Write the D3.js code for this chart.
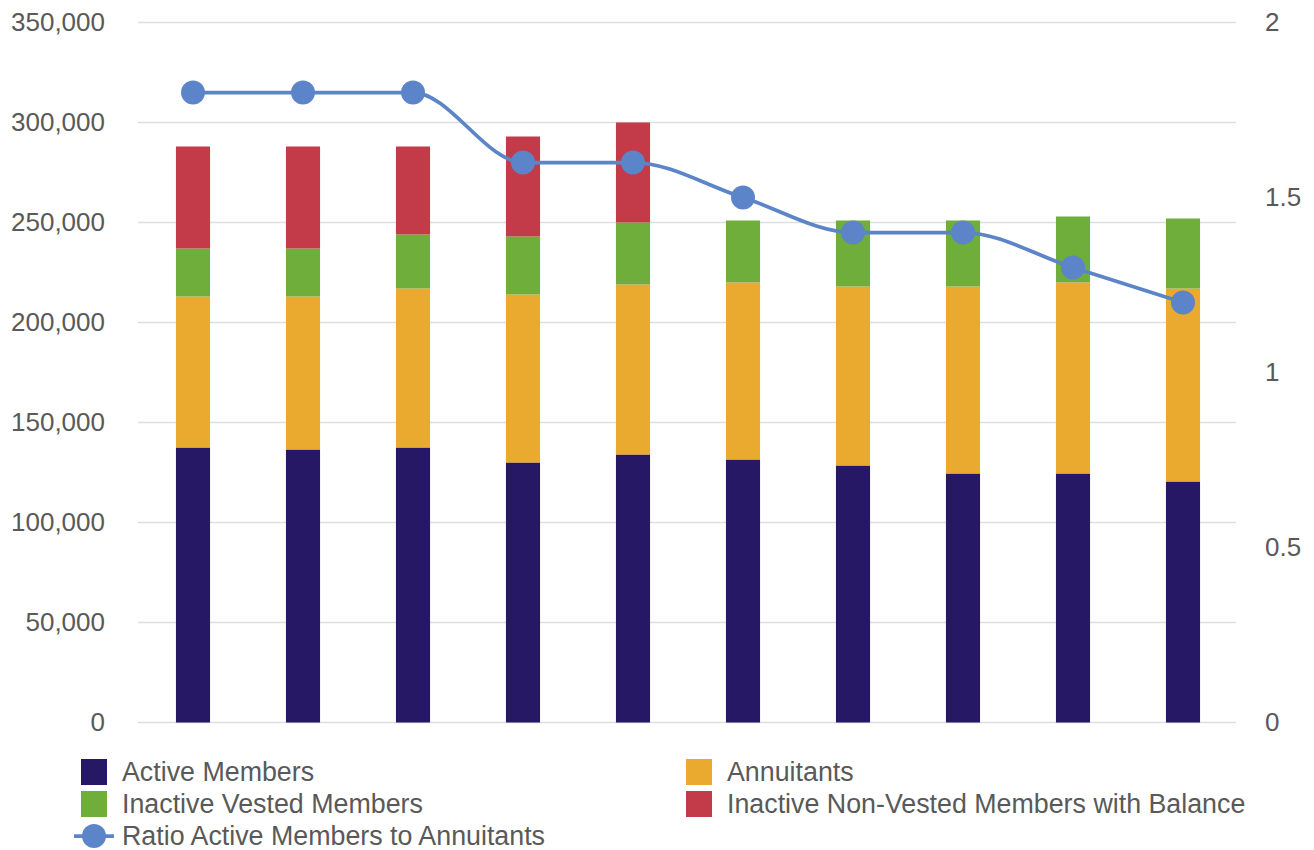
<!DOCTYPE html>
<html>
<head>
<meta charset="utf-8">
<script src="https://cdn.jsdelivr.net/npm/d3@7"></script>
<style>
  html, body { margin: 0; padding: 0; background: #fff; }
  svg { display: block; font-family: "Liberation Sans", Arial, sans-serif; }
</style>
</head>
<body>
<svg id="chart" width="1314" height="850"></svg>
<script>
// Membership counts per period (stacked bars) and the active-to-annuitant ratio (line)
const categories = ["1", "2", "3", "4", "5", "6", "7", "8", "9", "10"];
const activeMembers = [137500, 136500, 137500, 130000, 134000, 131500, 128500, 124500, 124500, 120500];
const annuitants = [75500, 76500, 79500, 84000, 85000, 88500, 89500, 93500, 95500, 96500];
const inactiveVested = [24000, 24000, 27000, 29000, 31000, 31000, 33000, 33000, 33000, 35000];
const inactiveNonVested = [51000, 51000, 44000, 50000, 50000, 0, 0, 0, 0, 0];
const ratio = [1.8, 1.8, 1.8, 1.6, 1.6, 1.5, 1.4, 1.4, 1.3, 1.2];
const leftTicks = [0, 50000, 100000, 150000, 200000, 250000, 300000, 350000];
const rightTicks = [0, 0.5, 1, 1.5, 2];

const seriesNames = ["Active Members", "Annuitants", "Inactive Vested Members", "Inactive Non-Vested Members with Balance"];
const seriesColors = ["#261865", "#EAAA2F", "#6FAE3A", "#C33B48"];
const lineName = "Ratio Active Members to Annuitants";
const lineColor = "#5B85C8";

const svg = d3.select("#chart");
const plot = { left: 138, right: 1238, top: 22.5, bottom: 722.5 };

const x = d3.scaleBand()
  .domain(categories)
  .range([plot.left, plot.right])
  .paddingInner(0.69)
  .paddingOuter(0.345);

const y = d3.scaleLinear().domain([0, 350000]).range([plot.bottom, plot.top]);
const y2 = d3.scaleLinear().domain([0, 2]).range([plot.bottom, plot.top]);

// Horizontal gridlines
svg.append("g")
  .selectAll("line")
  .data(leftTicks)
  .join("line")
  .attr("x1", plot.left)
  .attr("x2", plot.right - 2)
  .attr("y1", d => y(d))
  .attr("y2", d => y(d))
  .attr("stroke", "#DEDEDE")
  .attr("stroke-width", 1.5);

// Left axis
const leftAxis = svg.append("g")
  .attr("transform", `translate(${plot.left},0)`)
  .call(d3.axisLeft(y).tickValues(leftTicks).tickSize(0).tickPadding(33).tickFormat(d3.format(",")));
leftAxis.select(".domain").remove();
leftAxis.selectAll("text")
  .attr("fill", "#595959")
  .attr("dy", "0.3em")
  .style("font-size", "26px")
  .style("font-family", "'Liberation Sans', Arial, sans-serif");

// Right axis
const rightAxis = svg.append("g")
  .attr("transform", `translate(${plot.right},0)`)
  .call(d3.axisRight(y2).tickValues(rightTicks).tickSize(0).tickPadding(27).tickFormat(d3.format("")));
rightAxis.select(".domain").remove();
rightAxis.selectAll("text")
  .attr("fill", "#595959")
  .attr("dy", "0.3em")
  .style("font-size", "26px")
  .style("font-family", "'Liberation Sans', Arial, sans-serif");

// Stacked bars
const rows = categories.map((c, i) => ({
  category: c,
  s0: activeMembers[i],
  s1: annuitants[i],
  s2: inactiveVested[i],
  s3: inactiveNonVested[i]
}));
const stack = d3.stack().keys(["s0", "s1", "s2", "s3"]);
const stacked = stack(rows);

svg.append("g")
  .selectAll("g")
  .data(stacked)
  .join("g")
  .attr("fill", (d, i) => seriesColors[i])
  .selectAll("rect")
  .data(d => d.filter(p => p[1] - p[0] > 0))
  .join("rect")
  .attr("x", d => x(d.data.category))
  .attr("width", x.bandwidth())
  .attr("y", d => y(d[1]))
  .attr("height", d => y(d[0]) - y(d[1]));

// Ratio line with markers
const cx = c => x(c) + x.bandwidth() / 2;
const line = d3.line()
  .x((d, i) => cx(categories[i]))
  .y(d => y2(d))
  .curve(d3.curveMonotoneX);

svg.append("path")
  .datum(ratio)
  .attr("d", line)
  .attr("fill", "none")
  .attr("stroke", lineColor)
  .attr("stroke-width", 3.75);

svg.append("g")
  .selectAll("circle")
  .data(ratio)
  .join("circle")
  .attr("cx", (d, i) => cx(categories[i]))
  .attr("cy", d => y2(d))
  .attr("r", 12)
  .attr("fill", lineColor);

// Legend
const legendFont = "26.8px";
const legendItems = [
  { name: seriesNames[0], color: seriesColors[0], x: 81, y: 772 },
  { name: seriesNames[1], color: seriesColors[1], x: 686, y: 772 },
  { name: seriesNames[2], color: seriesColors[2], x: 81, y: 804 },
  { name: seriesNames[3], color: seriesColors[3], x: 686, y: 804 }
];
const legend = svg.append("g");
legendItems.forEach(item => {
  legend.append("rect")
    .attr("x", item.x)
    .attr("y", item.y - 13)
    .attr("width", 26)
    .attr("height", 26)
    .attr("fill", item.color);
  legend.append("text")
    .attr("x", item.x + 41)
    .attr("y", item.y)
    .attr("dominant-baseline", "central")
    .attr("fill", "#595959")
    .style("font-size", legendFont)
    .text(item.name);
});
legend.append("line")
  .attr("x1", 74).attr("x2", 114)
  .attr("y1", 836).attr("y2", 836)
  .attr("stroke", lineColor)
  .attr("stroke-width", 3.75);
legend.append("circle")
  .attr("cx", 94).attr("cy", 836).attr("r", 12)
  .attr("fill", lineColor);
legend.append("text")
  .attr("x", 122)
  .attr("y", 836)
  .attr("dominant-baseline", "central")
  .attr("fill", "#595959")
  .style("font-size", legendFont)
  .text(lineName);
</script>
</body>
</html>
